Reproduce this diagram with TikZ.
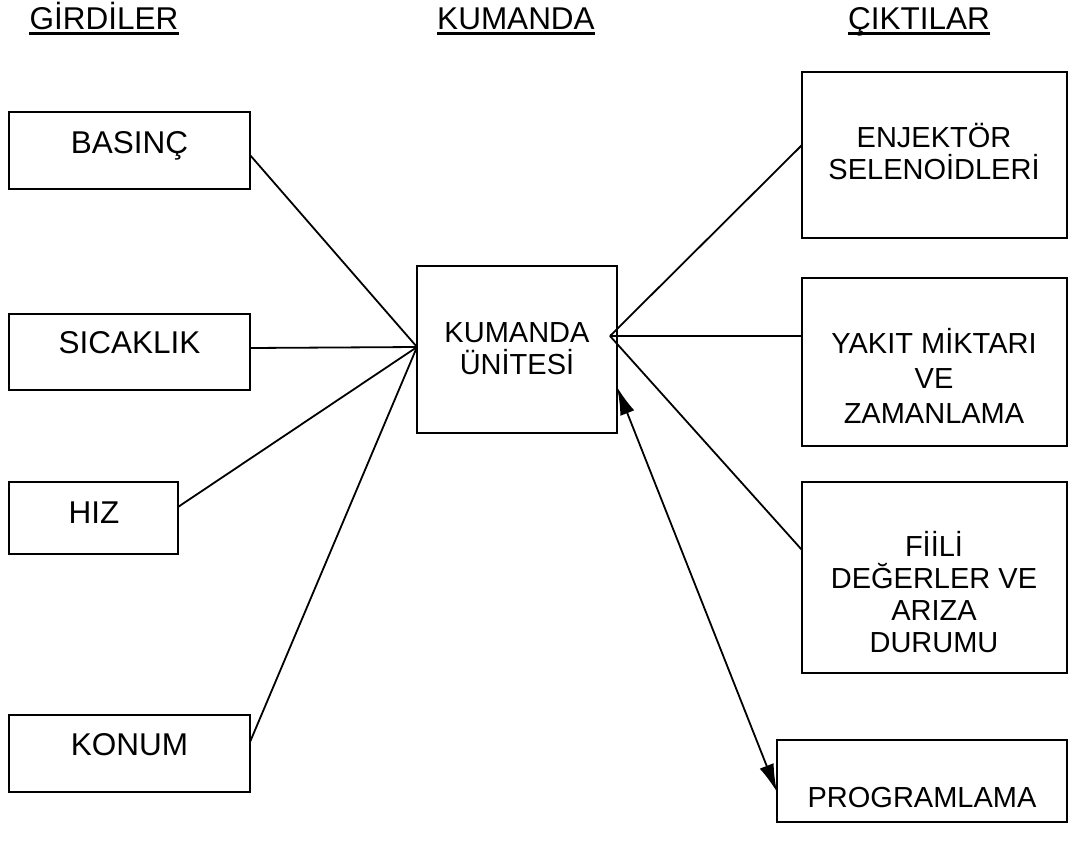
\documentclass[tikz,border=0pt]{standalone}
\usepackage{fontspec}
\setmainfont{Liberation Sans}
\usetikzlibrary{arrows.meta}

\begin{document}
\begin{tikzpicture}[x=1pt,y=-1pt,
  box/.style={draw,line width=2pt,rectangle,inner sep=0pt,outer sep=0pt},
  bigtxt/.style={inner sep=0pt,align=center,anchor=base,font=\fontsize{31.5}{32}\selectfont},
  txt/.style={inner sep=0pt,align=center,anchor=base,font=\fontsize{29}{32}\selectfont},
  head/.style={inner sep=0pt,anchor=base,font=\fontsize{31.5}{32}\selectfont},
  uline/.style={line width=3pt},
  wire/.style={line width=1.8pt},
  twoway/.style={line width=1.8pt,>={Latex[length=28pt,width=15pt]},<->}]

\useasboundingbox (0,0) rectangle (1073,846);

% column headings
\node[head] (hin)  at (104,29) {GİRDİLER};
\node[head] (hctl) at (516,29) {KUMANDA};
\node[head] (hout) at (919,29) {ÇIKTILAR};
\foreach \h in {hin,hctl,hout}
  \draw[uline] ([yshift=-4.5pt]\h.base west) -- ([yshift=-4.5pt]\h.base east);

% input boxes
\node[box,minimum width=241pt,minimum height=77pt] (basinc)   at (129.5,150.5) {};
\node[box,minimum width=241pt,minimum height=76pt] (sicaklik) at (129.5,352) {};
\node[box,minimum width=169pt,minimum height=72pt] (hiz)      at (93.5,518) {};
\node[box,minimum width=241pt,minimum height=77pt] (konum)    at (129.5,753.5) {};
\node[bigtxt] (basinc-t)   at (129.5,153) {BASINÇ};
\node[bigtxt] (sicaklik-t) at (129.5,353) {SICAKLIK};
\node[bigtxt] (hiz-t)      at (94,523) {HIZ};
\node[bigtxt] (konum-t)    at (129.5,755) {KONUM};

% control unit (text anchored on the baseline of its last line)
\node[box,minimum width=200pt,minimum height=167pt] (ecu) at (517,349.5) {};
\node[txt] (ecu-t) at (517,374) {KUMANDA\\ÜNİTESİ};

% output boxes
\node[box,minimum width=265pt,minimum height=166pt] (enj)   at (934.5,155) {};
\node[box,minimum width=265pt,minimum height=168pt] (yakit) at (934.5,362) {};
\node[box,minimum width=265pt,minimum height=191pt] (fiili) at (934.5,577.5) {};
\node[box,minimum width=290pt,minimum height=82pt]  (prog)  at (922,781) {};
\node[txt] (enj-t)   at (934,179) {ENJEKTÖR\\SELENOİDLERİ};
\node[txt] (yakit-t) at (934,423) {YAKIT MİKTARI\\[3pt]VE\\[3pt]ZAMANLAMA};
\node[txt] (fiili-t) at (934,652) {FİİLİ\\DEĞERLER VE\\ARIZA\\DURUMU};
\node[txt] (prog-t)  at (922,807) {PROGRAMLAMA};

% meeting points of the connectors
\coordinate (inL)  at (417,347);
\coordinate (outR) at (610,336);

% inputs to the control unit
\draw[wire] ([yshift=-4.5pt]basinc.east) -- (inL);
\draw[wire] ([yshift=4pt]sicaklik.east) -- (inL);
\draw[wire] ([yshift=11pt]hiz.east) -- (inL);
\draw[wire] ([yshift=11.5pt]konum.east) -- (inL);

% control unit to outputs
\draw[wire] (outR) -- ([yshift=10pt]enj.west);
\draw[wire] (outR) -- ([yshift=26pt]yakit.west);
\draw[wire] (outR) -- ([yshift=27.5pt]fiili.west);

% two-way link with programming
\draw[twoway] ([yshift=-37.5pt]ecu.east) -- ([yshift=-11pt]prog.west);
\end{tikzpicture}
\end{document}
